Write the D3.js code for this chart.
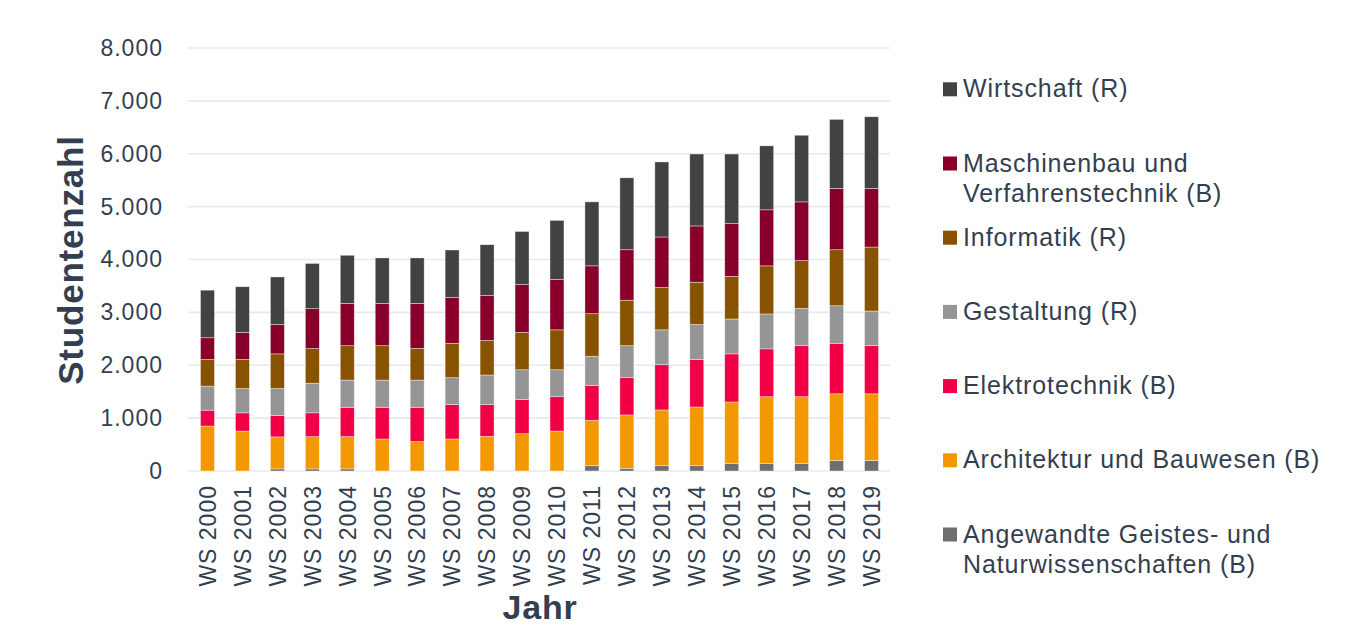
<!DOCTYPE html>
<html>
<head>
<meta charset="utf-8">
<script src="https://cdn.jsdelivr.net/npm/d3@7"></script>
<style>
  body { margin: 0; background: #fff; }
  text { font-family: "Liberation Sans", Arial, sans-serif; fill: #333f50; }
</style>
</head>
<body>
<script>
// Studentenzahl je Fachbereich, WS 2000 - WS 2019
var years = ["WS 2000", "WS 2001", "WS 2002", "WS 2003", "WS 2004", "WS 2005", "WS 2006",
    "WS 2007", "WS 2008", "WS 2009", "WS 2010", "WS 2011", "WS 2012", "WS 2013",
    "WS 2014", "WS 2015", "WS 2016", "WS 2017", "WS 2018", "WS 2019"];

var angewandte   = [0, 0, 40, 40, 40, 0, 0, 0, 0, 0, 0, 100, 50, 100, 100, 145, 145, 145, 200, 200];
var architektur  = [850, 755, 605, 610, 610, 605, 555, 605, 655, 705, 755, 860, 1010, 1055, 1110, 1160, 1260, 1260, 1260, 1260];
var elektro      = [300, 345, 405, 450, 555, 600, 650, 650, 600, 650, 650, 655, 705, 855, 900, 910, 905, 965, 955, 910];
var gestaltung   = [455, 460, 510, 560, 515, 515, 515, 510, 560, 560, 510, 555, 605, 660, 660, 660, 660, 705, 710, 655];
var informatik   = [505, 550, 655, 655, 650, 650, 600, 650, 655, 705, 755, 805, 860, 800, 800, 805, 910, 905, 1060, 1210];
var maschinenbau = [410, 510, 555, 755, 800, 800, 850, 870, 850, 905, 955, 905, 955, 955, 1065, 1000, 1060, 1110, 1160, 1110];
var wirtschaft   = [900, 865, 900, 855, 910, 860, 860, 895, 960, 1005, 1115, 1210, 1360, 1420, 1360, 1315, 1210, 1260, 1305, 1355];

var yTicks = [0, 1000, 2000, 3000, 4000, 5000, 6000, 7000, 8000];

// bottom to top in the stack
var series = [
    { key: "angewandte", label: ["Angewandte Geistes- und", "Naturwissenschaften (B)"], color: "#6e6e6e", values: angewandte },
    { key: "architektur", label: ["Architektur und Bauwesen (B)"], color: "#f39800", values: architektur },
    { key: "elektro", label: ["Elektrotechnik (B)"], color: "#f10045", values: elektro },
    { key: "gestaltung", label: ["Gestaltung (R)"], color: "#959595", values: gestaltung },
    { key: "informatik", label: ["Informatik (R)"], color: "#885300", values: informatik },
    { key: "maschinenbau", label: ["Maschinenbau und", "Verfahrenstechnik (B)"], color: "#880029", values: maschinenbau },
    { key: "wirtschaft", label: ["Wirtschaft (R)"], color: "#424242", values: wirtschaft }
];

var rows = years.map(function (y, i) {
    var r = { year: y };
    series.forEach(function (s) { r[s.key] = s.values[i]; });
    return r;
});

var width = 1358, height = 628;

var svg = d3.select("body").append("svg")
    .attr("width", width)
    .attr("height", height);

var x = d3.scaleBand().domain(years).range([190, 889]).paddingInner(0.6).paddingOuter(0.3);
var y = d3.scaleLinear().domain([0, 8000]).range([471, 48]);

// gridlines
svg.append("g")
    .selectAll("line")
    .data(yTicks)
    .join("line")
    .attr("x1", 188)
    .attr("x2", 890)
    .attr("y1", function (d) { return y(d); })
    .attr("y2", function (d) { return y(d); })
    .attr("stroke", "#e6eaf0")
    .attr("stroke-width", 1.6);

// y axis labels
var axisY = d3.axisLeft(y).tickValues(yTicks).tickSize(0).tickPadding(0)
    .tickFormat(function (d) { return d3.format(",")(d).replace(/,/g, "."); });
var gy = svg.append("g")
    .attr("transform", "translate(163,0)")
    .call(axisY);
gy.select(".domain").remove();
gy.selectAll("text")
    .attr("font-size", 23)
    .attr("letter-spacing", "1px")
    .attr("font-family", null);

// stacked bars
var stack = d3.stack().keys(series.map(function (s) { return s.key; }));
var layers = stack(rows);

svg.append("g")
    .selectAll("g")
    .data(layers)
    .join("g")
    .attr("fill", function (d, i) { return series[i].color; })
    .selectAll("rect")
    .data(function (d) { return d; })
    .join("rect")
    .attr("x", function (d) { return x(d.data.year); })
    .attr("width", x.bandwidth())
    .attr("y", function (d) { return y(d[1]); })
    .attr("height", function (d) { return y(d[0]) - y(d[1]); })
    .attr("stroke", "rgba(255,255,255,0.55)")
    .attr("stroke-width", 0.7);

// x axis labels, rotated
var axisX = d3.axisBottom(x).tickSize(0).tickPadding(0);
var gx = svg.append("g")
    .attr("transform", "translate(0,485)")
    .call(axisX);
gx.select(".domain").remove();
gx.selectAll("text")
    .attr("font-size", 23)
    .attr("letter-spacing", "1px")
    .attr("font-family", null)
    .attr("text-anchor", "end")
    .attr("transform", "rotate(-90)")
    .attr("x", 0)
    .attr("y", 0)
    .attr("dy", "0.36em");

// axis titles
svg.append("text")
    .attr("transform", "translate(83,260) rotate(-90)")
    .attr("text-anchor", "middle")
    .attr("font-size", 35)
    .attr("font-weight", "bold")
    .attr("letter-spacing", "0.8px")
    .text("Studentenzahl");

svg.append("text")
    .attr("x", 540)
    .attr("y", 619)
    .attr("text-anchor", "middle")
    .attr("font-size", 34)
    .attr("font-weight", "bold")
    .attr("letter-spacing", "0.8px")
    .text("Jahr");

// legend, top item is the top of the stack
var legend = svg.append("g")
    .selectAll("g")
    .data(series.slice().reverse())
    .join("g")
    .attr("transform", function (d, i) { return "translate(943," + (89.3 + i * 74.2) + ")"; });

legend.append("rect")
    .attr("x", 0)
    .attr("y", -7)
    .attr("width", 14)
    .attr("height", 14)
    .attr("fill", function (d) { return d.color; });

legend.append("text")
    .attr("font-size", 25)
    .attr("letter-spacing", "0.9px")
    .selectAll("tspan")
    .data(function (d) { return d.label; })
    .join("tspan")
    .attr("x", 20)
    .attr("y", function (d, i) { return 8 + i * 30.3; })
    .text(function (d) { return d; });
</script>
</body>
</html>
